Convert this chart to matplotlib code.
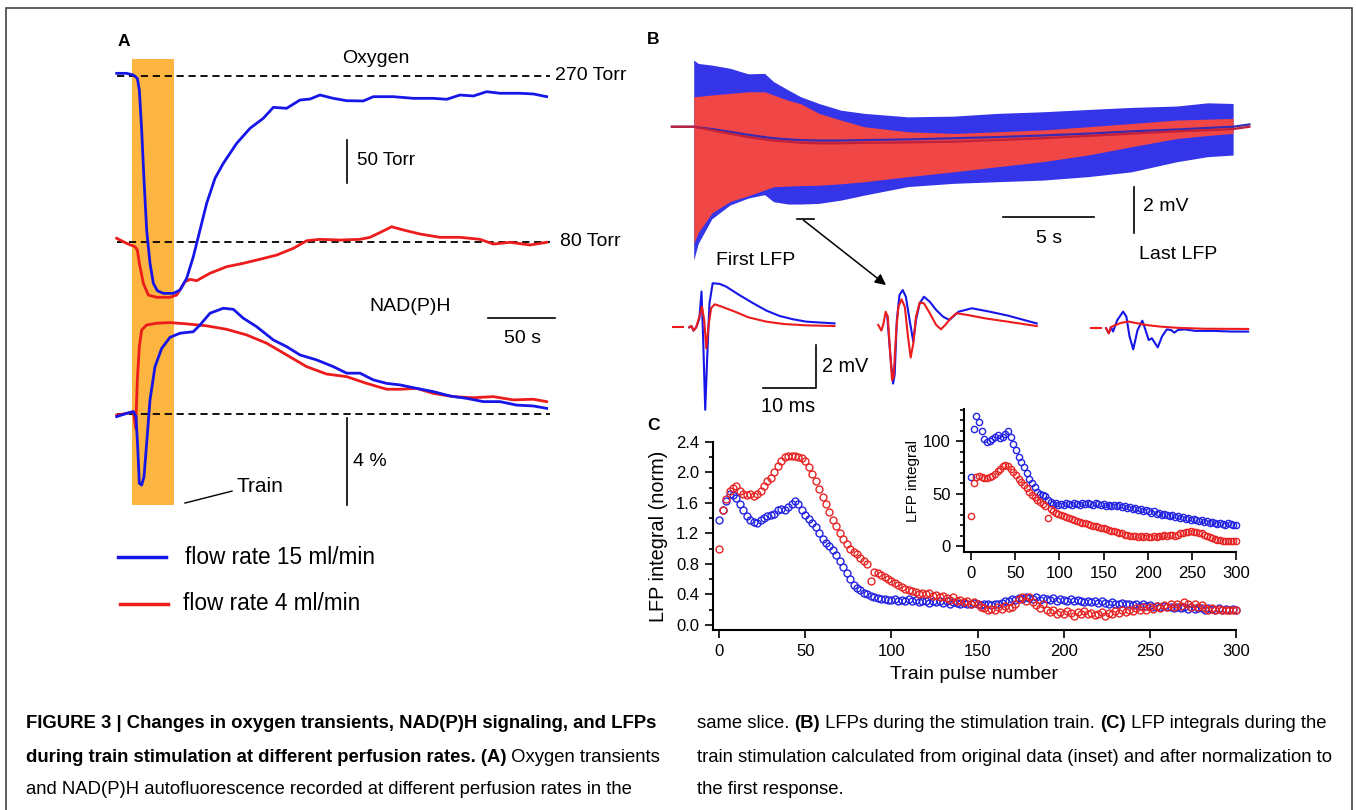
import numpy as np
import matplotlib
matplotlib.use("Agg")
import matplotlib.pyplot as plt
from matplotlib.lines import Line2D
from matplotlib.patches import Rectangle
from matplotlib.ticker import MultipleLocator, FormatStrFormatter

plt.rcParams['font.family'] = ['Liberation Sans', 'DejaVu Sans']

BLUE = "#1616e8"
RED = "#ec1c1c"
ORANGE = "#fbb540"

# ---------- panel A: oxygen (Torr) and NAD(P)H (%) vs time (s)
TRAIN_ON, TRAIN_OFF = 11.25, 43.0

O2_BLUE_T = [0, 7.5, 12.5, 15.5, 17, 18.75, 20.5, 22.5, 25, 27.5, 30.5, 35, 42.5, 47.5, 52.5,
             57.5, 62.5, 67.5, 73.75, 80, 90, 100, 110, 117.5, 127.5, 137.5, 145, 152.5, 162.5,
             172.5, 185, 192.5, 207.5, 222.5, 237.5, 247.5, 257.5, 267.5, 277.5, 287.5, 302.5,
             312.5, 322.5]
O2_BLUE = [272.7, 272.7, 270.8, 267, 253.6, 207.9, 150.7, 93.5, 55.4, 32.5, 24, 21, 21, 24.8, 38.2,
           63, 93.5, 124, 152.6, 169.8, 192.6, 209.8, 221.3, 233.8, 232.7, 242.2, 243.3, 247.9, 244.1,
           241.4, 241.1, 246, 246, 244.1, 244.1, 243, 247.9, 246.8, 251.7, 249.9, 249.9,
           249.1, 246]

O2_RED_T = [0, 7.5, 13.75, 15.5, 17, 20, 23.75, 30, 40, 45, 51.25, 55, 60, 70, 82.5, 95, 107.5,
            120, 132.5, 142.5, 152.5, 167.5, 182.5, 190, 198.75, 206.25, 215, 227.5, 242.5, 257.5,
            272.5, 282.5, 295, 310, 322.5]
O2_RED = [84, 78.2, 74.3, 70.6, 55.4, 32.5, 19, 16.5, 16.5, 19, 34.3, 37, 35.5, 44, 51.5, 55.4, 60,
          64.8, 72.5, 81.2, 82.8, 82, 82.8, 85.1, 91.5, 97.2, 93.5, 88.9, 85.1, 85.1,
          82.8, 77.4, 79.4, 76.3, 79.4]

NAD_BLUE_T = [0, 7.5, 12.5, 14.5, 15.75, 17, 18.75, 20.5, 22.5, 25, 28.75, 33.75, 40, 47.5, 57.5,
              62.5, 70, 80, 87.5, 95, 105, 117.5, 127.5, 137.5, 150, 162.5, 172.5, 182.5, 192.5,
              202.5, 212.5, 225, 237.5, 250, 262.5, 275, 287.5, 300, 312.5, 322.5]
NAD_BLUE = [-0.12, 0.03, 0.11, -0.12, -1.5, -3.19, -3.27, -2.89, -1.34, 0.65, 2.18, 3.02, 3.53, 3.72,
            3.79, 4.1, 4.64, 4.87, 4.82, 4.41, 4.02, 3.41, 3.1, 2.72, 2.49, 2.18, 1.88, 1.88, 1.57,
            1.41, 1.34, 1.18, 1.03, 0.83, 0.72, 0.57, 0.57, 0.41, 0.37, 0.26]

NAD_RED_T = [0, 7.5, 12.5, 14.25, 15.5, 17, 18.75, 22.5, 30, 40, 52.5, 67.5, 82.5, 97.5, 112.5,
             127.5, 142.5, 157.5, 172.5, 187.5, 202.5, 212.5, 225, 237.5, 252.5, 267.5, 282.5,
             297.5, 312.5, 322.5]
NAD_RED = [-0.05, 0.03, 0.11, -0.66, 1.57, 3.1, 3.87, 4.1, 4.18, 4.21, 4.15, 4.06, 3.9, 3.64, 3.26,
           2.72, 2.18, 1.84, 1.72, 1.41, 1.14, 1.14, 1.18, 0.95, 0.8, 0.75, 0.8, 0.65, 0.68, 0.57]

# ---------- panel B: LFP train envelope (mV) vs time (s)
ENV_T = [0, 0.25, 1, 2, 3, 3.9, 4.4, 5.2, 5.9, 6.9, 8.1, 9.4, 11.8, 14.3, 16.7, 19.2, 21.7,
         24.1, 26.6, 28.3, 29.7]
BLUE_HI = [2.9, 2.75, 2.68, 2.54, 2.3, 2.32, 1.96, 1.6, 1.3, 1.01, 0.72, 0.58, 0.43, 0.46, 0.58,
           0.65, 0.75, 0.84, 0.9, 1.04, 1.01]
BLUE_LO = [-5.8, -5.07, -4.0, -3.4, -3.1, -2.95, -3.26, -3.36, -3.36, -3.33, -3.19, -2.97, -2.6,
           -2.46, -2.39, -2.32, -2.17, -1.96, -1.52, -1.3, -1.23]
RED_HI = [1.3, 1.32, 1.38, 1.45, 1.52, 1.52, 1.38, 1.15, 1.0, 0.58, 0.29, 0.0, -0.22, -0.29,
          -0.22, -0.14, 0.0, 0.14, 0.29, 0.33, 0.36]
RED_LO = [-5.07, -4.6, -3.75, -3.25, -3.0, -2.75, -2.61, -2.58, -2.56, -2.54, -2.48, -2.39,
          -2.17, -1.96, -1.74, -1.52, -1.23, -0.87, -0.51, -0.38, -0.29]

BASE_T = [-1.2, 0, 1, 2, 3, 3.9, 4.4, 5.2, 5.9, 6.9, 8.1, 9.4, 11.8, 14.3, 16.7, 19.2, 21.7,
          24.1, 26.6, 28.3, 29.7, 30.6]
BASE_RED = [0, 0, -0.15, -0.3, -0.45, -0.55, -0.6, -0.65, -0.7, -0.72, -0.72, -0.7, -0.68, -0.65,
            -0.58, -0.5, -0.4, -0.3, -0.2, -0.15, -0.1, 0.0]
BASE_BLUE = [0, 0, -0.1, -0.22, -0.35, -0.45, -0.5, -0.55, -0.58, -0.6, -0.6, -0.58, -0.55, -0.5,
             -0.45, -0.38, -0.3, -0.2, -0.12, -0.05, 0.0, 0.1]

# single LFPs (ms, mV)
L1_BLUE_T = [3.0, 3.4, 3.8, 4.3, 4.9, 5.3, 5.6, 6.0, 6.4, 6.8, 7.4, 8.7, 9.9, 12.4, 15.0, 17.5,
             20.0, 22.5, 25.0, 27.6, 30.3]
L1_BLUE = [0, 0.06, -0.15, 0, 0.4, 1.65, -0.43, -3.8, -1.2, 1.11, 2.03, 2.0, 1.88, 1.49, 1.11,
           0.77, 0.52, 0.37, 0.26, 0.22, 0.18]
L1_RED_T = [3.0, 3.4, 3.8, 4.3, 5.0, 5.4, 5.8, 6.2, 6.6, 7.1, 7.8, 9.1, 11.6, 14.1, 17.5, 20.8,
            25.0, 30.3]
L1_RED = [0, 0.06, -0.15, 0, 0.57, 0.95, 0.34, -0.97, 0.03, 0.88, 1.06, 0.95, 0.72, 0.46, 0.26,
          0.15, 0.09, 0.06]

L2_RED_T = [0.0, 0.6, 1.0, 1.4, 1.8, 2.3, 2.6, 2.9, 3.4, 3.8, 4.4, 5.0, 5.6, 6.1, 6.6, 7.1, 7.8,
            8.6, 9.7, 10.9, 11.8, 12.6, 13.6, 14.7, 16.8, 20.2, 24.4, 29.8]
L2_RED = [0.08, -0.18, 0.15, 0.69, 0.46, -1.38, -2.46, -2.31, -0.15, 0.92, 1.26, 0.92, -0.46,
          -1.42, -0.77, 0.46, 1.11, 1.08, 0.62, 0.08, -0.12, 0.08, 0.38, 0.62, 0.54, 0.38, 0.23,
          0.03]
L2_BLUE_T = [1.7, 2.3, 2.8, 3.1, 3.5, 4.0, 4.6, 5.2, 5.9, 6.6, 7.1, 7.8, 8.6, 9.7, 10.9, 12.2,
             13.4, 15.1, 17.6, 21.0, 24.4, 29.8]
L2_BLUE = [0.5, -1.38, -2.62, -2.2, 0.3, 1.46, 1.69, 1.38, 0.31, -0.69, 0.31, 1.08, 1.38, 1.15,
           0.77, 0.46, 0.31, 0.69, 0.85, 0.69, 0.51, 0.15]

L3_BLUE_T = [2.9, 3.4, 3.8, 4.2, 5.0, 6.1, 6.7, 7.3, 8.0, 8.8, 9.7, 10.3, 10.9, 11.5, 12.6, 13.4,
             14.3, 15.1, 15.7, 16.4, 17.6, 19.7, 23.1, 26.5, 29.6]
L3_BLUE = [0, -0.23, 0.05, -0.15, 0.38, 0.77, 0.54, -0.38, -0.97, -0.08, 0.35, -0.08, -0.54,
           -0.46, -0.88, -0.38, -0.05, -0.08, -0.2, -0.08, -0.05, -0.12, -0.12, -0.15, -0.15]
L3_RED_T = [2.9, 3.4, 3.8, 4.6, 5.9, 7.1, 8.8, 10.5, 13.0, 16.4, 21.4, 29.6]
L3_RED = [0, -0.23, 0.05, 0.15, 0.26, 0.31, 0.23, 0.15, 0.08, 0.02, -0.02, -0.03]

DASH_T = [0, 1.9]
DASH_V = [0, 0]

# ---------- panel C: LFP integral per pulse
C_PULSES = np.arange(0, 301, 2)
C_RED = [1.00, 1.50, 1.65, 1.76, 1.80, 1.82, 1.76, 1.72, 1.70, 1.71,
         1.69, 1.72, 1.76, 1.82, 1.88, 1.93, 2.00, 2.08, 2.15, 2.20,
         2.21, 2.22, 2.21, 2.20, 2.19, 2.15, 2.07, 1.98, 1.88, 1.78,
         1.68, 1.58, 1.48, 1.38, 1.29, 1.20, 1.12, 1.06, 1.00, 0.96,
         0.93, 0.88, 0.84, 0.80, 0.57, 0.70, 0.68, 0.66, 0.63, 0.60,
         0.58, 0.55, 0.52, 0.50, 0.47, 0.46, 0.44, 0.43, 0.41, 0.42,
         0.40, 0.42, 0.38, 0.39, 0.36, 0.38, 0.35, 0.33, 0.36, 0.32,
         0.33, 0.30, 0.32, 0.28, 0.30, 0.27, 0.24, 0.22, 0.20, 0.21,
         0.19, 0.23, 0.21, 0.25, 0.22, 0.24, 0.28, 0.34, 0.36, 0.32,
         0.37, 0.30, 0.26, 0.22, 0.27, 0.20, 0.17, 0.19, 0.15, 0.17,
         0.14, 0.18, 0.16, 0.12, 0.17, 0.15, 0.18, 0.14, 0.16, 0.13,
         0.15, 0.17, 0.12, 0.16, 0.14, 0.18, 0.16, 0.19, 0.17, 0.20,
         0.18, 0.22, 0.19, 0.23, 0.20, 0.24, 0.21, 0.25, 0.22, 0.26,
         0.23, 0.27, 0.24, 0.28, 0.25, 0.30, 0.27, 0.24, 0.27, 0.23,
         0.26, 0.22, 0.20, 0.22, 0.19, 0.21, 0.19, 0.20, 0.19, 0.20,
         0.19]
C_BLUE = [1.38, 1.50, 1.62, 1.72, 1.70, 1.66, 1.58, 1.50, 1.43, 1.38,
          1.35, 1.34, 1.37, 1.40, 1.43, 1.44, 1.46, 1.50, 1.52, 1.51,
          1.54, 1.58, 1.63, 1.58, 1.50, 1.44, 1.39, 1.34, 1.28, 1.20,
          1.12, 1.08, 1.04, 0.98, 0.92, 0.84, 0.76, 0.68, 0.60, 0.53,
          0.49, 0.46, 0.42, 0.40, 0.38, 0.37, 0.35, 0.34, 0.34, 0.33,
          0.33, 0.34, 0.32, 0.33, 0.32, 0.34, 0.31, 0.33, 0.30, 0.32,
          0.31, 0.29, 0.31, 0.30, 0.32, 0.29, 0.31, 0.28, 0.30, 0.29,
          0.27, 0.29, 0.28, 0.27, 0.29, 0.28, 0.26, 0.28, 0.27, 0.26,
          0.28, 0.27, 0.29, 0.31, 0.32, 0.34, 0.33, 0.35, 0.34, 0.36,
          0.35, 0.34, 0.36, 0.33, 0.35, 0.34, 0.33, 0.35, 0.32, 0.34,
          0.33, 0.32, 0.34, 0.31, 0.33, 0.32, 0.30, 0.32, 0.30, 0.31,
          0.29, 0.31, 0.29, 0.28, 0.30, 0.28, 0.27, 0.29, 0.27, 0.28,
          0.26, 0.27, 0.25, 0.27, 0.25, 0.26, 0.24, 0.25, 0.23, 0.25,
          0.23, 0.24, 0.22, 0.24, 0.22, 0.23, 0.21, 0.23, 0.21, 0.22,
          0.22, 0.20, 0.22, 0.21, 0.20, 0.22, 0.20, 0.21, 0.20, 0.21,
          0.20]
C_XTICKS = [0, 50, 100, 150, 200, 250, 300]
C_YTICKS = [0.0, 0.4, 0.8, 1.2, 1.6, 2.0, 2.4]

INSET_PULSES = np.arange(0, 301, 3)
INSET_BLUE = [66, 112, 124, 118, 110, 102, 99, 100, 102, 104,
              106, 103, 104, 107, 110, 104, 97, 92, 85, 80,
              75, 70, 64, 60, 56, 52, 50, 49, 48, 44,
              42, 40, 41, 39, 40, 39, 41, 40, 39, 41,
              40, 39, 41, 40, 41, 40, 39, 41, 40, 39,
              40, 38, 39, 38, 39, 38, 39, 37, 38, 36,
              37, 35, 36, 34, 35, 33, 34, 33, 32, 33,
              31, 32, 30, 31, 30, 29, 30, 28, 29, 27,
              28, 26, 27, 25, 26, 25, 24, 25, 23, 24,
              22, 23, 22, 21, 22, 21, 20, 22, 21, 20,
              20]
INSET_RED = [29, 60, 66, 67, 66, 65, 65, 66, 67, 69,
             72, 74, 76, 77, 76, 74, 71, 68, 64, 61,
             58, 55, 52, 49, 47, 44, 42, 40, 38, 27,
             35, 33, 32, 31, 30, 29, 28, 27, 26, 25,
             24, 23, 22, 22, 21, 20, 19, 19, 18, 17,
             17, 16, 15, 14, 14, 13, 12, 12, 11, 11,
             10, 10, 10, 9, 10, 9, 10, 9, 9, 10,
             9, 10, 10, 11, 10, 11, 11, 10, 11, 12,
             12, 13, 13, 14, 13, 13, 12, 12, 11, 10,
             9, 8, 7, 6, 6, 5, 5, 5, 5, 5,
             5]
INSET_YTICKS = [0, 50, 100]

W, H = 1356, 810
fig = plt.figure(figsize=(W / 100, H / 100), dpi=100)


def box(left, top, right, bottom):
    # axes placed by pixel box (top-left origin)
    return fig.add_axes([left / W, 1 - bottom / H, (right - left) / W, (bottom - top) / H])


def ftext(x, y, s, **kw):
    return fig.text(x / W, 1 - y / H, s, **kw)


# ================= panel A =================
bg = box(110, 50, 560, 515)
bg.set_xlim(-5, 332.5)
bg.set_ylim(0, 1)
bg.axis('off')
bg.axvspan(TRAIN_ON, TRAIN_OFF, ymin=10 / 465, ymax=455.7 / 465, color=ORANGE, lw=0)

axO = box(110, 50, 560, 300)
axO.set_xlim(-5, 332.5)
axO.set_ylim(13.4, 299.4)
axO.axis('off')
axO.hlines([270, 80], 0, 325, colors='k', linestyles=(0, (4, 2.6)), lw=1.3)
axO.plot(O2_RED_T, O2_RED, color=RED, lw=2)
axO.plot(O2_BLUE_T, O2_BLUE, color=BLUE, lw=2)
axO.text(328.8, 270, "270 Torr", va='center', ha='left', fontsize=14)
axO.text(332.6, 80, "80 Torr", va='center', ha='left', fontsize=14)
axO.text(194, 290, "Oxygen", va='center', ha='center', fontsize=14)
axO.plot([172.7, 172.7], [197, 147], color='k', lw=1.2)
axO.text(180, 173, "50 Torr", va='center', ha='left', fontsize=13.5)

axN = box(110, 285, 560, 515)
axN.set_xlim(-5, 332.5)
axN.set_ylim(-4.65, 5.94)
axN.axis('off')
axN.hlines(0, 0, 325, colors='k', linestyles=(0, (4, 2.6)), lw=1.3)
axN.plot(NAD_RED_T, NAD_RED, color=RED, lw=2)
axN.plot(NAD_BLUE_T, NAD_BLUE, color=BLUE, lw=2)
axN.text(220, 4.93, "NAD(P)H", va='center', ha='center', fontsize=14)
axN.plot([278.6, 328.6], [4.42, 4.42], color='k', lw=1.2)
axN.text(304, 3.46, "50 s", va='center', ha='center', fontsize=14)
axN.plot([172.7, 172.7], [-0.2, -4.2], color='k', lw=1.2)
axN.text(177, -2.2, "4 %", va='center', ha='left', fontsize=14)
axN.plot([51.2, 86.5], [-4.1, -3.55], color='k', lw=1)
axN.text(89.6, -3.32, "Train", va='center', ha='left', fontsize=15)

ftext(124, 41, "A", fontsize=12.5, fontweight='bold', ha='center', va='center')

# legend
fig.add_artist(Line2D([118 / W, 166 / W], [1 - 557 / H] * 2, color=BLUE, lw=2.5))
fig.add_artist(Line2D([120 / W, 168 / W], [1 - 604 / H] * 2, color=RED, lw=2.5))
ftext(185, 557, "flow rate 15 ml/min", fontsize=16.3, va='center', ha='left')
ftext(183, 604, "flow rate 4 ml/min", fontsize=16.3, va='center', ha='left')

# ================= panel B =================
axB = box(660, 40, 1260, 300)
axB.set_xlim(-1.856, 31.18)
axB.set_ylim(-7.53, 3.77)
axB.axis('off')
axB.fill_between(ENV_T, BLUE_LO, BLUE_HI, color="#3434e8", lw=0)
axB.fill_between(ENV_T, RED_LO, RED_HI, color="#f04646", lw=0)
axB.plot(BASE_T, BASE_BLUE, color="#3a2ab0", lw=1.6)
axB.plot(BASE_T, BASE_RED, color="#c0203a", lw=1.6)
axB.plot([17.03, 22.03], [-3.94, -3.94], color='k', lw=1.2)
axB.text(19.57, -4.85, "5 s", ha='center', va='center', fontsize=14)
axB.plot([24.22, 24.22], [-2.63, -4.63], color='k', lw=1.2)
axB.text(24.74, -3.48, "2 mV", ha='left', va='center', fontsize=14)
axB.text(3.42, -5.8, "First LFP", ha='center', va='center', fontsize=14)
axB.text(26.67, -5.55, "Last LFP", ha='center', va='center', fontsize=14)
axB.plot([5.67, 6.6], [-4.01, -4.01], color='k', lw=1.2)

ftext(653, 40, "B", fontsize=12.5, fontweight='bold', ha='center', va='center')


def lfp_axes(x0, y0):
    ax = box(x0 - 5.32, y0 - 2.5 * 21.7, x0 + 31 * 5.32, y0 + 5 * 21.7)
    ax.set_xlim(-1, 31)
    ax.set_ylim(-5, 2.5)
    ax.axis('off')
    return ax


axL1 = lfp_axes(673.3, 327.3)
axL1.plot(DASH_T, DASH_V, color=RED, lw=1.5)
axL1.plot(L1_BLUE_T, L1_BLUE, color=BLUE, lw=1.5)
axL1.plot(L1_RED_T, L1_RED, color=RED, lw=1.5)
axL1.plot([16.9, 26.9, 26.9], [-2.81, -2.81, -0.81], color='k', lw=1.2, clip_on=False)
axL1.text(27.95, -1.82, "2 mV", ha='left', va='center', fontsize=14.3)
axL1.text(21.56, -3.65, "10 ms", ha='center', va='center', fontsize=14.3)

axL2 = lfp_axes(878.2, 326.7)
axL2.plot(L2_BLUE_T, L2_BLUE, color=BLUE, lw=1.5)
axL2.plot(L2_RED_T, L2_RED, color=RED, lw=1.5)

axL3 = lfp_axes(1090.7, 328.3)
axL3.plot(DASH_T, DASH_V, color=RED, lw=1.5)
axL3.plot(L3_BLUE_T, L3_BLUE, color=BLUE, lw=1.5)
axL3.plot(L3_RED_T, L3_RED, color=RED, lw=1.5)

axB.annotate("", xy=(1.47, 1.92), xycoords=axL2.transData, xytext=(6.04, -4.06),
             textcoords='data',
             arrowprops=dict(arrowstyle='-|>', color='k', lw=1.1, mutation_scale=16,
                             shrinkA=0, shrinkB=0))

# ================= panel C =================
axC = box(713, 441.7, 1236, 630)
axC.set_xlim(-3.6, 300)
axC.set_ylim(-0.066, 2.401)
for s in ['top', 'right']:
    axC.spines[s].set_visible(False)
for s in ['left', 'bottom']:
    axC.spines[s].set_linewidth(1.5)
axC.set_xticks(C_XTICKS)
axC.set_yticks(C_YTICKS)
axC.yaxis.set_major_formatter(FormatStrFormatter('%.1f'))
axC.yaxis.set_minor_locator(MultipleLocator(0.2))
axC.tick_params(which='major', direction='out', length=6, width=1.2, labelsize=12, pad=4)
axC.tick_params(which='minor', direction='out', length=3, width=1.2)
axC.plot(C_PULSES, C_BLUE, 'o', mfc='none', mec="#2424e4", ms=5, mew=1, clip_on=False)
axC.plot(C_PULSES, C_RED, 'o', mfc='none', mec="#e82424", ms=5, mew=1, clip_on=False)
axC.set_xlabel("Train pulse number", fontsize=14, labelpad=5)
axC.set_ylabel("LFP integral (norm)", fontsize=14.3, labelpad=6)

axI = box(964.3, 409.3, 1236, 551.7)
axI.patch.set_alpha(0)
axI.set_xlim(-7.6, 300)
axI.set_ylim(-5.4, 130.5)
for s in ['top', 'right']:
    axI.spines[s].set_visible(False)
for s in ['left', 'bottom']:
    axI.spines[s].set_linewidth(1.5)
axI.set_xticks(C_XTICKS)
axI.set_yticks(INSET_YTICKS)
axI.yaxis.set_minor_locator(MultipleLocator(10))
axI.tick_params(which='major', direction='out', length=6, width=1.2, labelsize=12, pad=4)
axI.tick_params(which='minor', direction='out', length=3, width=1.2)
axI.plot(INSET_PULSES, INSET_BLUE, 'o', mfc='none', mec="#2424e4", ms=4.5, mew=1, clip_on=False)
axI.plot(INSET_PULSES, INSET_RED, 'o', mfc='none', mec="#e82424", ms=4.5, mew=1, clip_on=False)
axI.set_ylabel("LFP integral", fontsize=11, labelpad=2)

ftext(653, 425, "C", fontsize=12.5, fontweight='bold', ha='center', va='center')

# ================= frame and caption =================
fig.add_artist(Rectangle((6 / W, -0.02), 1346 / W, 1.02 - 8 / H, transform=fig.transFigure,
                         fill=False, lw=1.2, ec='#444444'))

renderer = fig.canvas.get_renderer()


def caption_line(x_px, y_px, runs, size=13.3):
    x = x_px
    for txt, bold in runs:
        t = ftext(x, y_px, txt, fontsize=size, fontweight='bold' if bold else 'normal',
                  va='center', ha='left')
        x += t.get_window_extent(renderer).width


caption_line(26, 723, [("FIGURE 3 | Changes in oxygen transients, NAD(P)H signaling, and LFPs", True)])
caption_line(26, 757, [("during train stimulation at different perfusion rates. (A)", True),
                       (" Oxygen transients", False)])
caption_line(26, 790, [("and NAD(P)H autofluorescence recorded at different perfusion rates in the", False)])
caption_line(697, 723, [("same slice. ", False), ("(B)", True),
                        (" LFPs during the stimulation train. ", False), ("(C)", True),
                        (" LFP integrals during the", False)])
caption_line(697, 757, [("train stimulation calculated from original data (inset) and after normalization to", False)])
caption_line(697, 790, [("the first response.", False)])

fig.savefig("out.png", dpi=100)
